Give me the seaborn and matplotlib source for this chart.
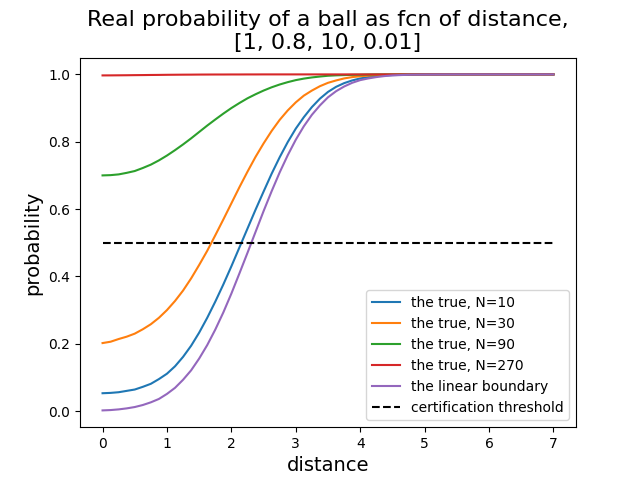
import matplotlib
matplotlib.use("Agg")
import matplotlib.pyplot as plt
import seaborn as sns
import pandas as pd

distance = [0.0, 0.125, 0.25, 0.375, 0.5, 0.625, 0.75, 0.875,
            1.0, 1.125, 1.25, 1.375, 1.5, 1.625, 1.75, 1.875,
            2.0, 2.125, 2.25, 2.375, 2.5, 2.625, 2.75, 2.875,
            3.0, 3.125, 3.25, 3.375, 3.5, 3.625, 3.75, 3.875,
            4.0, 4.125, 4.25, 4.375, 4.5, 4.625, 4.75, 4.875,
            5.0, 5.5, 6.0, 6.5, 7.0]

true_n10 = [0.053, 0.054, 0.056, 0.060, 0.064, 0.072, 0.081, 0.095,
            0.111, 0.133, 0.161, 0.194, 0.233, 0.277, 0.325, 0.376,
            0.430, 0.486, 0.542, 0.598, 0.652, 0.705, 0.754, 0.799,
            0.839, 0.873, 0.903, 0.928, 0.948, 0.963, 0.974, 0.982,
            0.988, 0.992, 0.995, 0.997, 0.998, 0.9985, 0.999, 0.9996,
            1.0, 1.0, 1.0, 1.0, 1.0]
true_n30 = [0.202, 0.206, 0.214, 0.221, 0.230, 0.243, 0.258, 0.277,
            0.300, 0.327, 0.358, 0.394, 0.434, 0.476, 0.522, 0.569,
            0.617, 0.665, 0.711, 0.755, 0.795, 0.832, 0.865, 0.893,
            0.917, 0.937, 0.952, 0.965, 0.975, 0.982, 0.988, 0.992,
            0.9945, 0.9964, 0.9977, 0.9986, 0.9991, 0.9995, 0.9997, 0.9998,
            1.0, 1.0, 1.0, 1.0, 1.0]
true_n90 = [0.700, 0.7008, 0.703, 0.7076, 0.713, 0.722, 0.732, 0.7446,
            0.759, 0.775, 0.792, 0.810, 0.829, 0.848, 0.866, 0.8835,
            0.900, 0.915, 0.929, 0.941, 0.952, 0.9617, 0.970, 0.977,
            0.983, 0.9875, 0.991, 0.9937, 0.996, 0.9972, 0.998, 0.9986,
            0.999, 0.9996, 1.0, 1.0, 1.0, 1.0, 1.0, 1.0,
            1.0, 1.0, 1.0, 1.0, 1.0]
true_n270 = [0.997, 0.9971, 0.9973, 0.9975, 0.9978, 0.998, 0.9983, 0.9985,
             0.9988, 0.999, 0.9992, 0.9993, 0.9995, 0.9996, 0.9997, 0.9997,
             0.9998, 0.9998, 0.9999, 0.9999, 1.0, 1.0, 1.0, 1.0,
             1.0, 1.0, 1.0, 1.0, 1.0, 1.0, 1.0, 1.0,
             1.0, 1.0, 1.0, 1.0, 1.0, 1.0, 1.0, 1.0,
             1.0, 1.0, 1.0, 1.0, 1.0]
linear_boundary = [0.002, 0.003, 0.005, 0.008, 0.012, 0.018, 0.026, 0.036,
                   0.051, 0.069, 0.093, 0.121, 0.156, 0.196, 0.242, 0.293,
                   0.349, 0.409, 0.470, 0.532, 0.594, 0.653, 0.709, 0.760,
                   0.806, 0.846, 0.880, 0.908, 0.932, 0.950, 0.964, 0.975,
                   0.983, 0.988, 0.992, 0.995, 0.997, 0.998, 0.999, 0.9993,
                   0.9996, 1.0, 1.0, 1.0, 1.0]

threshold_x = [0.0, 7.0]
threshold_y = [0.5, 0.5]

series_labels = ["the true, N=10", "the true, N=30", "the true, N=90",
                 "the true, N=270", "the linear boundary"]
series_values = [true_n10, true_n30, true_n90, true_n270, linear_boundary]
series_colors = ["#1f77b4", "#ff7f0e", "#2ca02c", "#d62728", "#9467bd"]

fig, ax = plt.subplots(figsize=(6.4, 4.8), dpi=100)

for lab, vals, col in zip(series_labels, series_values, series_colors):
    df = pd.DataFrame({"distance": distance, "probability": vals})
    sns.lineplot(data=df, x="distance", y="probability", ax=ax, color=col,
                 label=lab, linewidth=1.5, estimator=None, sort=False)

sns.lineplot(x=threshold_x, y=threshold_y, ax=ax, color="black", linestyle="--",
             label="certification threshold", linewidth=1.5, estimator=None)

ax.set_title("Real probability of a ball as fcn of distance,\n[1, 0.8, 10, 0.01]",
             fontsize=16)
ax.set_xlabel("distance", fontsize=14)
ax.set_ylabel("probability", fontsize=14)
ax.legend(loc="lower right", fontsize=10)

fig.savefig("out.png", dpi=100)
